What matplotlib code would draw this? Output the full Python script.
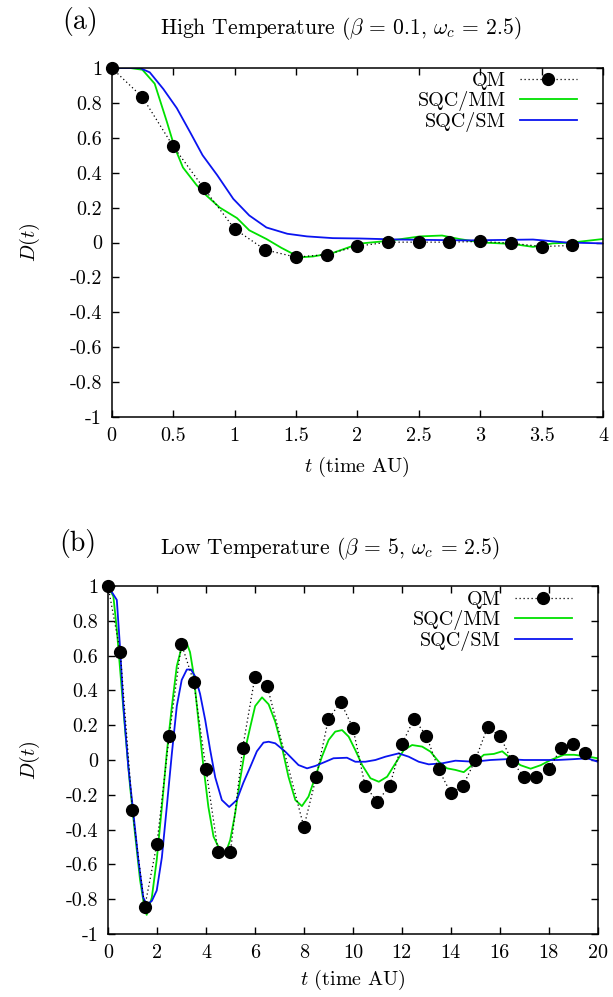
import numpy as np
import matplotlib
matplotlib.use('Agg')
import matplotlib.pyplot as plt
from matplotlib.ticker import FuncFormatter

plt.rcParams['font.family'] = 'serif'
plt.rcParams['font.serif'] = ['cmr10']
plt.rcParams['mathtext.fontset'] = 'cm'
plt.rcParams['axes.unicode_minus'] = False
plt.rcParams['axes.formatter.use_mathtext'] = True

# ---- panel (a): high temperature ----
qm_t_a = [0, 0.25, 0.5, 0.75, 1.0, 1.25, 1.5, 1.75, 2.0, 2.25, 2.5, 2.75, 3.0, 3.25, 3.5, 3.75]
qm_d_a = [1.0, 0.833, 0.552, 0.311, 0.078, -0.042, -0.084, -0.069, -0.021, 0.002, 0.002, 0.002, 0.006, -0.004, -0.023, -0.017]

mm_t_a = [0, 0.15, 0.25, 0.35, 0.45, 0.51, 0.58, 0.69, 0.77, 0.88, 1.02, 1.12, 1.26, 1.38, 1.53, 1.64,
          1.80, 1.96, 2.02, 2.26, 2.51, 2.69, 2.83, 3.01, 3.26, 3.43, 3.59, 3.75, 4.0]
mm_d_a = [1.0, 1.0, 0.99, 0.91, 0.69, 0.55, 0.43, 0.33, 0.27, 0.20, 0.14, 0.07, 0.02, -0.03, -0.085, -0.08,
          -0.06, -0.02, -0.006, 0.01, 0.035, 0.04, 0.02, 0.0, -0.008, -0.025, -0.005, 0.0, 0.02]

sm_t_a = [0, 0.23, 0.31, 0.42, 0.53, 0.64, 0.74, 0.86, 0.99, 1.12, 1.26, 1.43, 1.59, 1.80, 2.02, 2.34,
          2.89, 3.43, 3.70, 4.0]
sm_d_a = [1.0, 1.0, 0.975, 0.88, 0.77, 0.63, 0.50, 0.385, 0.25, 0.155, 0.086, 0.05, 0.035, 0.025, 0.023, 0.017,
          0.012, 0.017, 0.0, -0.005]

# ---- panel (b): low temperature ----
qm_t_b = [0, 0.5, 1.0, 1.5, 2.0, 2.5, 3.0, 3.5, 4.0, 4.5, 5.0, 5.5, 6.0, 6.5,
          8.0, 8.5, 9.0, 9.5, 10.0, 10.5, 11.0, 11.5, 12.0, 12.5, 13.0, 13.5, 14.0, 14.5,
          15.0, 15.5, 16.0, 16.5, 17.0, 17.5, 18.0, 18.5, 19.0, 19.5]
qm_d_b = [1.0, 0.62, -0.29, -0.845, -0.48, 0.14, 0.667, 0.45, -0.05, -0.53, -0.53, 0.07, 0.477, 0.425,
          -0.385, -0.10, 0.235, 0.333, 0.186, -0.148, -0.24, -0.148, 0.09, 0.236, 0.14, -0.053, -0.19, -0.148,
          0.0, 0.188, 0.14, -0.006, -0.10, -0.10, -0.053, 0.067, 0.092, 0.042]

mm_t_b = [0, 0.22, 0.36, 0.53, 0.70, 0.90, 1.10, 1.31, 1.49, 1.58, 1.79, 1.99, 2.20, 2.40, 2.61, 2.81,
          3.01, 3.18, 3.35, 3.49, 3.69, 3.90, 4.10, 4.31, 4.58, 4.79, 4.99, 5.19, 5.40, 5.60, 5.81,
          6.01, 6.29, 6.56, 6.83, 7.10, 7.37, 7.65, 7.92, 8.19, 8.47, 8.74, 9.01, 9.28, 9.56, 9.83,
          10.10, 10.38, 10.72, 11.06, 11.40, 11.74, 12.08, 12.42, 12.83, 13.17, 13.51, 13.85, 14.19,
          14.53, 14.94, 15.35, 15.76, 16.10, 16.44, 16.85, 17.26, 17.67, 18.08, 18.62, 19.03, 19.58, 20.0]
mm_d_b = [1.0, 0.94, 0.75, 0.46, 0.17, -0.15, -0.42, -0.69, -0.85, -0.89, -0.79, -0.575, -0.27, 0.04, 0.31, 0.54,
          0.65, 0.686, 0.62, 0.50, 0.23, -0.04, -0.27, -0.44, -0.52, -0.54, -0.46, -0.31, -0.11, 0.06, 0.19,
          0.31, 0.36, 0.32, 0.22, 0.077, -0.096, -0.23, -0.265, -0.21, -0.096, 0.02, 0.115, 0.163, 0.172, 0.134,
          0.057, -0.029, -0.105, -0.125, -0.096, -0.019, 0.057, 0.086, 0.077, 0.048, -0.01, -0.048, -0.057,
          -0.07, -0.02, 0.03, 0.035, 0.05, 0.01, -0.03, -0.05, -0.03, 0.0, 0.03, 0.03, 0.02, 0.01]

sm_t_b = [0, 0.36, 0.49, 0.63, 0.83, 1.04, 1.24, 1.44, 1.58, 1.79, 1.99, 2.20, 2.40, 2.61, 2.81, 3.01,
          3.22, 3.39, 3.56, 3.76, 3.97, 4.17, 4.38, 4.65, 4.95, 5.26, 5.53, 5.81, 6.08, 6.35, 6.56,
          6.83, 7.24, 7.78, 8.13, 8.47, 8.88, 9.21, 9.76, 10.10, 10.51, 10.92, 11.33, 11.87, 12.28,
          12.69, 13.10, 13.65, 14.19, 14.94, 15.62, 16.31, 16.99, 17.67, 18.35, 19.03, 19.58, 20.0]
sm_d_b = [1.0, 0.92, 0.65, 0.31, -0.04, -0.31, -0.575, -0.79, -0.83, -0.81, -0.75, -0.56, -0.27, 0.04, 0.31, 0.46,
          0.52, 0.52, 0.48, 0.38, 0.23, 0.06, -0.10, -0.23, -0.27, -0.23, -0.13, -0.04, 0.05, 0.10, 0.105,
          0.096, 0.048, -0.029, -0.048, -0.034, -0.01, 0.01, 0.013, -0.01, -0.01, 0.0, 0.019, 0.038, 0.019,
          -0.01, -0.025, -0.019, -0.004, -0.01, 0.0, 0.005, 0.0, 0.0, 0.0, 0.005, 0.01, -0.01]

xticks_a = [0, 0.5, 1, 1.5, 2, 2.5, 3, 3.5, 4]
xticks_b = [0, 2, 4, 6, 8, 10, 12, 14, 16, 18, 20]
yticks = [-1, -0.8, -0.6, -0.4, -0.2, 0, 0.2, 0.4, 0.6, 0.8, 1]

GREEN = '#00e000'
BLUE = '#0a14f0'
W, H = 613.0, 997.0

fig = plt.figure(figsize=(6.13, 9.97), dpi=100)
axA = fig.add_axes([111.7/W, 1-417/H, (603-111.7)/W, (417-68)/H])
axB = fig.add_axes([108/W, 1-934/H, (597.7-108)/W, (934-586)/H])

fmt = FuncFormatter(lambda v, p: '%g' % (round(v, 2) + 0.0))

def drawPanel(ax, qt, qd, mt, md, st, sd, xticks, xmax, legAnchor):
	ax.plot(qt, qd, color='k', ls=(0, (1, 2.2)), lw=0.9, marker='o', ms=8.5,
		mec='k', mfc='k', label='QM', clip_on=False, zorder=3)
	ax.plot(mt, md, color=GREEN, lw=1.3, label='SQC/MM', zorder=2)
	ax.plot(st, sd, color=BLUE, lw=1.3, label='SQC/SM', zorder=2)
	ax.set_xlim(0, xmax)
	ax.set_ylim(-1, 1)
	ax.set_xticks(xticks)
	ax.set_yticks(yticks)
	ax.xaxis.set_major_formatter(fmt)
	ax.yaxis.set_major_formatter(fmt)
	ax.tick_params(direction='in', top=True, right=True, length=5, width=1.0,
		labelsize=14.5, pad=7)
	for s in ax.spines.values():
		s.set_linewidth(1.1)
	leg = ax.legend(loc='upper right', bbox_to_anchor=legAnchor, markerfirst=False,
		frameon=False, fontsize=14.5, handlelength=2.85, handletextpad=0.7,
		labelspacing=0.05, borderpad=0, borderaxespad=0, numpoints=1)
	return leg

drawPanel(axA, qm_t_a, qm_d_a, mm_t_a, mm_d_a, sm_t_a, sm_d_a, xticks_a, 4,
	((577-111.7)/(603-111.7), 1-(72-68)/349.0))
drawPanel(axB, qm_t_b, qm_d_b, mm_t_b, mm_d_b, sm_t_b, sm_d_b, xticks_b, 20,
	((572-108)/(597.7-108), 1-(591-586)/348.0))

# labels and titles
fig.text(30/W, 1-242/H, '$D(t)$', rotation=90, ha='center', va='center', fontsize=14.5)
fig.text(30/W, 1-760/H, '$D(t)$', rotation=90, ha='center', va='center', fontsize=14.5)
fig.text(357/W, 1-467/H, '$t$ (time AU)', ha='center', va='center', fontsize=14.5)
fig.text(353/W, 1-980/H, '$t$ (time AU)', ha='center', va='center', fontsize=14.5)

fig.text(80/W, 1-22/H, '(a)', ha='center', va='center', fontsize=20)
fig.text(160/W, 1-28/H, r'High Temperature ($\beta$ = 0.1, $\omega_c$ = 2.5)',
	ha='left', va='center', fontsize=15.5)
fig.text(78/W, 1-543/H, '(b)', ha='center', va='center', fontsize=20)
fig.text(160/W, 1-548/H, r'Low Temperature ($\beta$ = 5, $\omega_c$ = 2.5)',
	ha='left', va='center', fontsize=15.5)

fig.savefig('out.png', dpi=100)
